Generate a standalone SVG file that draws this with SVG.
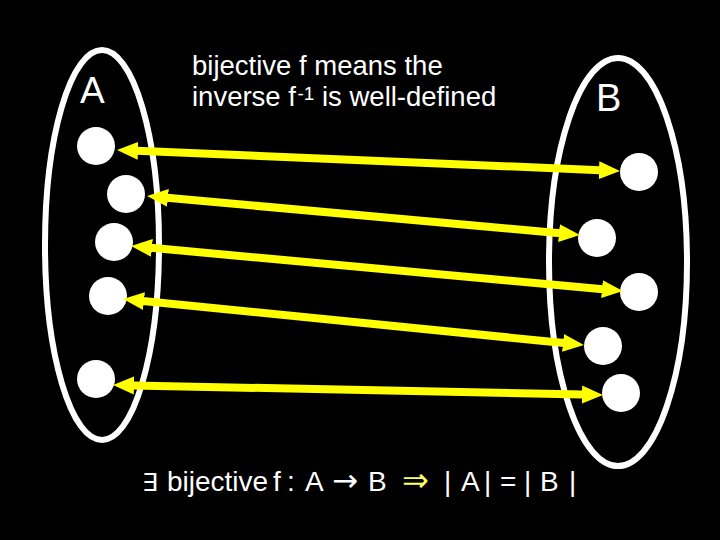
<svg xmlns="http://www.w3.org/2000/svg" width="720" height="540" viewBox="0 0 720 540">
  <style>
    .set { fill: none; stroke: #ffffff; stroke-width: 6; }
    .elem { fill: #ffffff; }
    .conn { stroke: #ffff00; stroke-width: 8; fill: none; marker-start: url(#head); marker-end: url(#head); }
    .txt { font-family: "Liberation Sans", Arial, sans-serif; fill: #ffffff; }
    .sym { font-family: "DejaVu Sans", sans-serif; }
  </style>
  <defs>
    <marker id="head" markerUnits="userSpaceOnUse" markerWidth="22" markerHeight="20" viewBox="0 0 22 20" refX="1" refY="10" orient="auto-start-reverse">
      <path d="M0,1 L21,10 L0,19 Z" fill="#ffff00"/>
    </marker>
  </defs>
  <rect x="0" y="0" width="720" height="540" fill="#000000"/>

  <g id="setA">
    <ellipse class="set" cx="102" cy="245" rx="57" ry="195"/>
    <text class="txt" x="80" y="102.5" font-size="37">A</text>
  </g>
  <g id="setB">
    <ellipse class="set" cx="618" cy="262" rx="69" ry="204"/>
    <text class="txt" x="596" y="110.5" font-size="38">B</text>
  </g>

  <g id="a1"><circle class="elem" cx="96" cy="146" r="19"/></g>
  <g id="a2"><circle class="elem" cx="126" cy="194" r="19"/></g>
  <g id="a3"><circle class="elem" cx="114" cy="242" r="19"/></g>
  <g id="a4"><circle class="elem" cx="108" cy="296" r="19"/></g>
  <g id="a5"><circle class="elem" cx="96" cy="379" r="19"/></g>

  <g id="b1"><circle class="elem" cx="639" cy="172" r="19"/></g>
  <g id="b2"><circle class="elem" cx="597" cy="238" r="19"/></g>
  <g id="b3"><circle class="elem" cx="639" cy="292" r="19"/></g>
  <g id="b4"><circle class="elem" cx="603" cy="346" r="19"/></g>
  <g id="b5"><circle class="elem" cx="621" cy="393" r="19"/></g>

  <g id="connectors">
    <line class="conn" x1="137" y1="150.8" x2="600" y2="170.2"/>
    <line class="conn" x1="167" y1="197.8" x2="560" y2="233.2"/>
    <line class="conn" x1="151" y1="247.8" x2="603" y2="289.2"/>
    <line class="conn" x1="143" y1="301" x2="564" y2="343"/>
    <line class="conn" x1="133" y1="385.4" x2="583" y2="394.6"/>
  </g>

  <g id="caption-top">
    <text class="txt" x="192" y="75" font-size="27.5">bijective f means the</text>
    <text class="txt" y="106" font-size="27.5"><tspan x="192">inverse f</tspan><tspan x="297.5" y="100" font-size="19">-1</tspan><tspan x="322" y="106">is well-defined</tspan></text>
  </g>

  <g id="caption-bottom">
    <text class="txt sym" x="142" y="491" font-size="25">∃</text>
    <text class="txt" y="491" font-size="28"><tspan x="167">bijective</tspan><tspan x="273">f</tspan><tspan x="287">:</tspan><tspan x="305">A</tspan></text>
    <text class="txt sym" x="332" y="491" font-size="31">→</text>
    <text class="txt" x="368" y="491" font-size="28">B</text>
    <text class="sym" x="402" y="491" font-size="32" fill="#ffff66">⇒</text>
    <text class="txt" y="491" font-size="28"><tspan x="444">|</tspan><tspan x="461">A</tspan><tspan x="484">|</tspan><tspan x="500">=</tspan><tspan x="524">|</tspan><tspan x="540">B</tspan><tspan x="569">|</tspan></text>
  </g>
</svg>
